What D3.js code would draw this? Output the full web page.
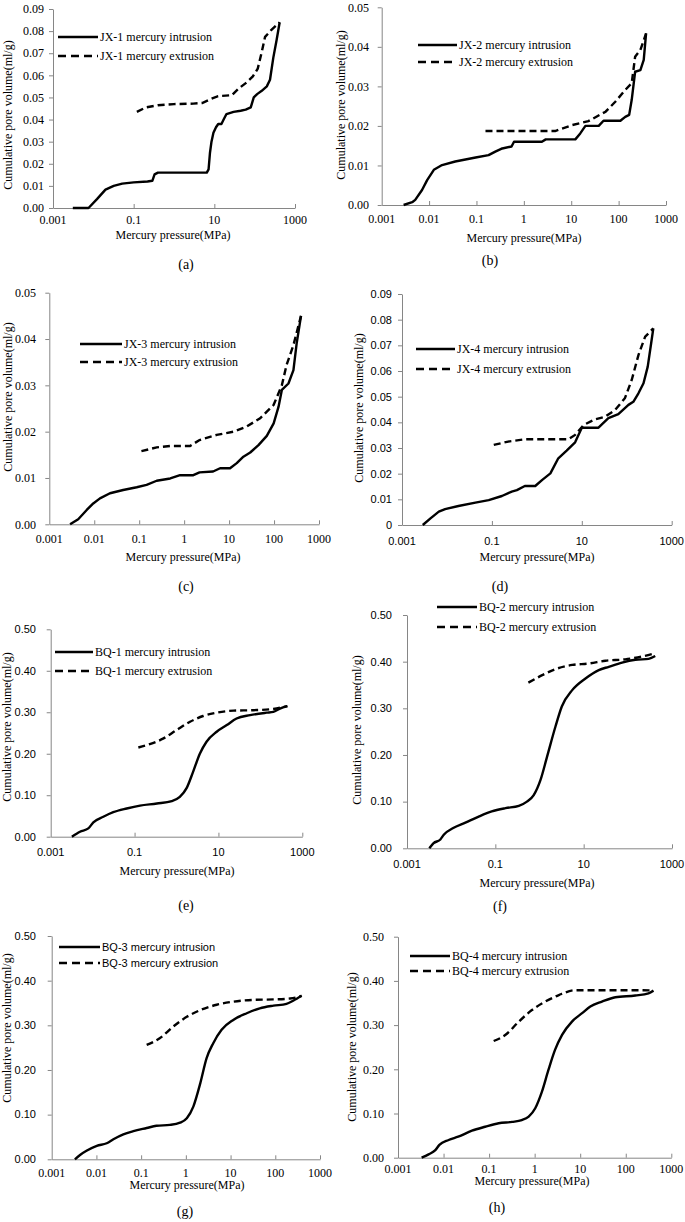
<!DOCTYPE html>
<html><head><meta charset="utf-8">
<script src="https://cdn.jsdelivr.net/npm/d3@7"></script>
<style>body{margin:0;background:#fff}svg{display:block}</style>
</head><body><svg id="c" width="685" height="1222"></svg>
<script>
// ---- data (pressure MPa, cumulative pore volume ml/g) ----
const sampleNames = ["JX-1","JX-2","JX-3","JX-4","BQ-1","BQ-2","BQ-3","BQ-4"];
const panelLetters = ["(a)","(b)","(c)","(d)","(e)","(f)","(g)","(h)"];
const xTicksEvery2 = [0.001, 0.1, 10, 1000];
const xTicksEvery1 = [0.001, 0.01, 0.1, 1, 10, 100, 1000];
const xTickLabels = {0.001:"0.001",0.01:"0.01",0.1:"0.1",1:"1",10:"10",100:"100",1000:"1000"};
const yTicksJX1 = [0,0.01,0.02,0.03,0.04,0.05,0.06,0.07,0.08,0.09];
const yTicksJX2 = [0,0.01,0.02,0.03,0.04,0.05];
const yTicksBQ = [0,0.1,0.2,0.3,0.4,0.5];

const jx1Intrusion = [[0.0031,0],[0.0076,0],[0.0123,0.004],[0.02,0.0083],[0.032,0.010],[0.052,0.011],[0.10,0.0116],[0.22,0.012],[0.29,0.0123],[0.33,0.0152],[0.4,0.016],[2,0.016],[6.5,0.016],[7.2,0.0175],[7.8,0.025],[8.5,0.030],[9.5,0.034],[11,0.0365],[12.5,0.038],[15,0.038],[17,0.04],[20,0.0425],[30,0.0435],[45,0.044],[60,0.0445],[80,0.0455],[95,0.050],[115,0.0515],[150,0.053],[200,0.055],[240,0.058],[290,0.068],[350,0.076],[417,0.084]];
const jx1Extrusion = [[0.12,0.0435],[0.2,0.0455],[0.4,0.0465],[1,0.047],[3,0.0472],[5,0.0475],[8.4,0.0494],[12.4,0.0506],[27,0.051],[40,0.054],[60,0.0565],[90,0.0595],[119,0.063],[150,0.0706],[181,0.0774],[257,0.0805],[417,0.084]];
const jx2Intrusion = [[0.0029,0],[0.0044,0.0007],[0.0051,0.0013],[0.0071,0.0038],[0.0091,0.0063],[0.0126,0.0089],[0.0188,0.0101],[0.0356,0.011],[0.096,0.012],[0.18,0.0126],[0.25,0.0135],[0.35,0.0143],[0.55,0.0148],[0.62,0.016],[2.4,0.016],[2.9,0.0166],[12.2,0.0166],[15.5,0.0181],[19.9,0.02],[38,0.02],[48,0.0213],[109,0.0213],[138,0.0223],[167,0.0228],[189,0.0266],[223,0.0337],[288,0.0341],[339,0.0367],[380,0.0434]];
const jx2Extrusion = [[0.155,0.0187],[1.26,0.0187],[4.6,0.0187],[10.4,0.0202],[23,0.0212],[53,0.0236],[85,0.0261],[138,0.0291],[189,0.0308],[223,0.0375],[288,0.0392],[380,0.0434]];
const jx3Intrusion = [[0.0029,0],[0.0044,0.0011],[0.0068,0.0031],[0.0095,0.0045],[0.0134,0.0056],[0.0224,0.0067],[0.044,0.0074],[0.088,0.008],[0.146,0.0085],[0.245,0.0094],[0.49,0.0099],[0.81,0.0106],[1.6,0.0106],[2.2,0.0112],[4.4,0.0114],[6.3,0.0121],[10.5,0.0121],[14.8,0.0132],[20.8,0.0146],[29.5,0.0155],[45,0.0171],[69,0.0191],[98,0.0218],[126,0.0254],[149,0.029],[209,0.0304],[270,0.0333],[318,0.039],[398,0.045]];
const jx3Extrusion = [[0.112,0.0158],[0.245,0.0166],[0.49,0.0169],[1.35,0.0169],[2.2,0.0182],[5.3,0.0193],[12.5,0.02],[24.6,0.0211],[49,0.0229],[98,0.0258],[149,0.03],[190,0.0344],[270,0.0387],[398,0.045]];
const jx4Intrusion = [[0.0029,0],[0.0043,0.0026],[0.0066,0.0052],[0.0091,0.0062],[0.018,0.0074],[0.043,0.0087],[0.085,0.0097],[0.167,0.0113],[0.276,0.013],[0.36,0.0136],[0.54,0.0152],[0.92,0.0152],[1.3,0.0175],[2.0,0.0201],[3.0,0.026],[4.6,0.029],[7.1,0.0322],[10,0.0379],[23.5,0.0379],[39,0.0416],[65,0.0432],[109,0.0468],[140,0.048],[182,0.0513],[236,0.0552],[293,0.0617],[349,0.0708],[390,0.0766]];
const jx4Extrusion = [[0.11,0.0312],[0.23,0.0325],[0.55,0.0334],[5,0.0334],[7.1,0.0351],[11,0.039],[20,0.0412],[33,0.0422],[55,0.0448],[91,0.0494],[129,0.0565],[182,0.0662],[257,0.0734],[390,0.0766]];
const bq1Intrusion = [[0.0032,0],[0.005,0.012],[0.0079,0.02],[0.0104,0.0346],[0.018,0.048],[0.031,0.059],[0.065,0.068],[0.135,0.075],[0.34,0.08],[0.77,0.086],[1.2,0.096],[1.74,0.117],[2.5,0.157],[3.6,0.2],[5.2,0.229],[9.1,0.253],[15.8,0.269],[27,0.285],[57,0.293],[141,0.299],[204,0.301],[293,0.309],[440,0.315]];
const bq1Extrusion = [[0.123,0.215],[0.23,0.223],[0.49,0.237],[1.0,0.257],[2.1,0.277],[4.3,0.291],[9.1,0.299],[23,0.304],[68,0.305],[204,0.308],[440,0.315]];
const bq2Intrusion = [[0.0032,0],[0.004,0.011],[0.0057,0.019],[0.0068,0.029],[0.0114,0.044],[0.021,0.055],[0.042,0.068],[0.083,0.079],[0.17,0.086],[0.34,0.091],[0.52,0.1],[0.74,0.114],[1.05,0.146],[1.48,0.196],[2.3,0.261],[3.2,0.304],[5.5,0.339],[11,0.364],[22,0.382],[37,0.389],[74,0.398],[148,0.404],[296,0.406],[417,0.412]];
const bq2Extrusion = [[0.56,0.355],[1.15,0.371],[2.3,0.384],[5.5,0.393],[13,0.396],[31,0.402],[87,0.405],[209,0.411],[417,0.418]];
const bq3Intrusion = [[0.0033,0],[0.0043,0.0097],[0.006,0.019],[0.0102,0.03],[0.017,0.036],[0.024,0.045],[0.04,0.056],[0.067,0.063],[0.133,0.07],[0.22,0.075],[0.44,0.077],[0.74,0.082],[1.05,0.092],[1.47,0.118],[2.1,0.17],[2.9,0.226],[4.1,0.26],[6.3,0.29],[11.5,0.312],[23,0.327],[45,0.338],[91,0.344],[178,0.348],[251,0.355],[389,0.366]];
const bq3Extrusion = [[0.133,0.256],[0.26,0.271],[0.52,0.297],[1.05,0.319],[2.1,0.334],[4.9,0.346],[11.5,0.353],[32,0.357],[91,0.358],[215,0.36],[389,0.366]];
const bq4Intrusion = [[0.0033,0],[0.0047,0.0075],[0.0066,0.017],[0.0081,0.029],[0.0129,0.04],[0.021,0.0475],[0.042,0.061],[0.082,0.07],[0.162,0.078],[0.32,0.081],[0.52,0.085],[0.74,0.093],[1.03,0.112],[1.44,0.149],[2.0,0.198],[2.8,0.244],[4.0,0.278],[6.6,0.308],[11,0.327],[16.7,0.342],[30,0.353],[59,0.363],[162,0.367],[316,0.372],[407,0.378]];
const bq4Extrusion = [[0.126,0.264],[0.23,0.278],[0.45,0.308],[0.87,0.334],[1.7,0.353],[3.4,0.368],[7.8,0.379],[42,0.379],[224,0.379],[407,0.378]];

const intrusionSeries = [jx1Intrusion,jx2Intrusion,jx3Intrusion,jx4Intrusion,bq1Intrusion,bq2Intrusion,bq3Intrusion,bq4Intrusion];
const extrusionSeries = [jx1Extrusion,jx2Extrusion,jx3Extrusion,jx4Extrusion,bq1Extrusion,bq2Extrusion,bq3Extrusion,bq4Extrusion];
const yTickSets = [yTicksJX1,yTicksJX2,yTicksJX2,yTicksJX1,yTicksBQ,yTicksBQ,yTicksBQ,yTicksBQ];
const xTickSets = [xTicksEvery2,xTicksEvery1,xTicksEvery1,xTicksEvery2,xTicksEvery2,xTicksEvery2,xTicksEvery1,xTicksEvery1];

// ---- layout ----
const SERIF = '"Liberation Serif","Times New Roman",serif';
const SANS = '"Liberation Sans",Arial,sans-serif';
const layout = [
 {x0:53,x1:295,yb:208,yt:9,  yr:44, xtb:224, xlb:239, xlx:173, ylx:8,  yly:115, cx:186, cy:269, lx0:58, lx1:98, ly:[37,56], xtf:SERIF, ytf:SERIF, lf:SERIF, zero:"0.00", curve:"lin"},
 {x0:381.7,x1:666,yb:205,yt:7.3, yr:369, xtb:223, xlb:242, xlx:524, ylx:341, yly:105, cx:490, cy:265, lx0:418, lx1:457, ly:[45,62], xtf:SERIF, ytf:SERIF, lf:SERIF, zero:"0.00", curve:"lin"},
 {x0:49.3,x1:319,yb:524.3,yt:292.7, yr:36, xtb:543, xlb:561, xlx:183, ylx:8, yly:397, cx:186, cy:591, lx0:80, lx1:122, ly:[344,362], xtf:SERIF, ytf:SERIF, lf:SERIF, zero:"0.00", curve:"lin"},
 {x0:402,x1:671.7,yb:525,yt:294, yr:392, xtb:545, xlb:561, xlx:537, ylx:359, yly:408, cx:500, cy:591, lx0:416, lx1:455, ly:[349,369], xtf:SANS, ytf:SANS, lf:SERIF, zero:"0", curve:"lin"},
 {x0:50.7,x1:302.3,yb:836.7,yt:629.3, yr:36, xtb:856, xlb:875, xlx:177, ylx:7, yly:727, cx:186, cy:910, lx0:55, lx1:93, ly:[652,671], xtf:SANS, ytf:SANS, lf:SERIF, zero:"0.00", curve:"mono"},
 {x0:407,x1:672,yb:848.3,yt:615, yr:392, xtb:868, xlb:887, xlx:537, ylx:357, yly:730, cx:500, cy:911, lx0:437, lx1:477, ly:[607,627], xtf:SANS, ytf:SANS, lf:SERIF, zero:"0.00", curve:"mono"},
 {x0:51.7,x1:320,yb:1159.3,yt:936, yr:36, xtb:1177, xlb:1189, xlx:187, ylx:7, yly:1028, cx:185, cy:1216, lx0:59, lx1:100, ly:[947,963], xtf:SERIF, ytf:SANS, lf:SANS, zero:"0.00", curve:"mono"},
 {x0:398,x1:671.3,yb:1157.7,yt:936.7, yr:384, xtb:1173, xlb:1185, xlx:532, ylx:352, yly:1047, cx:497, cy:1212, lx0:410, lx1:450, ly:[956,971], xtf:SERIF, ytf:SERIF, lf:SERIF, zero:"0.00", curve:"mono"}
];

const svg = d3.select("#c");
const AX = "#868686";

layout.forEach((L, i) => {
  const g = svg.append("g");
  const yt = yTickSets[i];
  const x = d3.scaleLog().domain([0.001, 1000]).range([L.x0, L.x1]);
  const y = d3.scaleLinear().domain([0, yt[yt.length-1]]).range([L.yb, L.yt]);
  const xt = xTickSets[i];

  // x axis
  const xa = g.append("g").attr("transform", `translate(0,${L.yb})`)
    .call(d3.axisBottom(x).tickValues(xt.slice(1)).tickSizeInner(-4).tickSizeOuter(0).tickFormat(""));
  xa.selectAll("path,line").attr("stroke", AX).attr("stroke-width", 1);
  // y axis
  const ya = g.append("g").attr("transform", `translate(${L.x0},0)`)
    .call(d3.axisLeft(y).tickValues(yt).tickSizeInner(4).tickSizeOuter(0).tickFormat(""));
  ya.selectAll("path,line").attr("stroke", AX).attr("stroke-width", 1);

  // x tick labels
  g.selectAll(".xl").data(xt).enter().append("text")
    .attr("x", d => x(d)).attr("y", L.xtb).attr("text-anchor", "middle")
    .style("font-family", L.xtf).style("font-size", L.xtf===SANS ? "11px" : "12px")
    .text(d => xTickLabels[d]);
  // y tick labels
  g.selectAll(".yl").data(yt).enter().append("text")
    .attr("x", L.yr).attr("y", d => y(d)).attr("dy", "0.35em").attr("text-anchor", "end")
    .style("font-family", L.ytf).style("font-size", L.ytf===SANS ? "11px" : "12px")
    .text(d => d === 0 ? L.zero : d3.format(".2f")(d));

  // axis titles
  g.append("text").attr("x", L.xlx).attr("y", L.xlb).attr("text-anchor", "middle")
    .style("font-family", SERIF).style("font-size", "12px").text("Mercury pressure(MPa)");
  g.append("text").attr("transform", `translate(${L.ylx},${L.yly}) rotate(-90)`)
    .attr("text-anchor", "middle").attr("dy", "0.35em")
    .style("font-family", SERIF).style("font-size", "12px").text("Cumulative pore volume(ml/g)");
  g.append("text").attr("x", L.cx).attr("y", L.cy).attr("text-anchor", "middle")
    .style("font-family", SERIF).style("font-size", "14px").text(panelLetters[i]);

  // curves
  const line = d3.line().x(d => x(d[0])).y(d => y(d[1]))
    .curve(L.curve === "mono" ? d3.curveMonotoneX : d3.curveLinear);
  g.append("path").datum(intrusionSeries[i]).attr("d", line)
    .attr("fill", "none").attr("stroke", "#000").attr("stroke-width", 2.4).attr("stroke-linejoin", "round");
  g.append("path").datum(extrusionSeries[i]).attr("d", line)
    .attr("fill", "none").attr("stroke", "#000").attr("stroke-width", 2.4).attr("stroke-dasharray", "7,4");

  // legend
  const leg = [{t: sampleNames[i] + " mercury intrusion", dash: null}, {t: sampleNames[i] + " mercury extrusion", dash: "8,5"}];
  leg.forEach((e, k) => {
    g.append("line").attr("x1", L.lx0).attr("x2", L.lx1).attr("y1", L.ly[k]).attr("y2", L.ly[k])
      .attr("stroke", "#000").attr("stroke-width", 2.6).attr("stroke-dasharray", e.dash);
    g.append("text").attr("x", L.lx1 + 2).attr("y", L.ly[k]).attr("dy", "0.35em")
      .style("font-family", L.lf).style("font-size", L.lf===SANS ? "11px" : "12px").text(e.t);
  });
});
</script></body></html>
